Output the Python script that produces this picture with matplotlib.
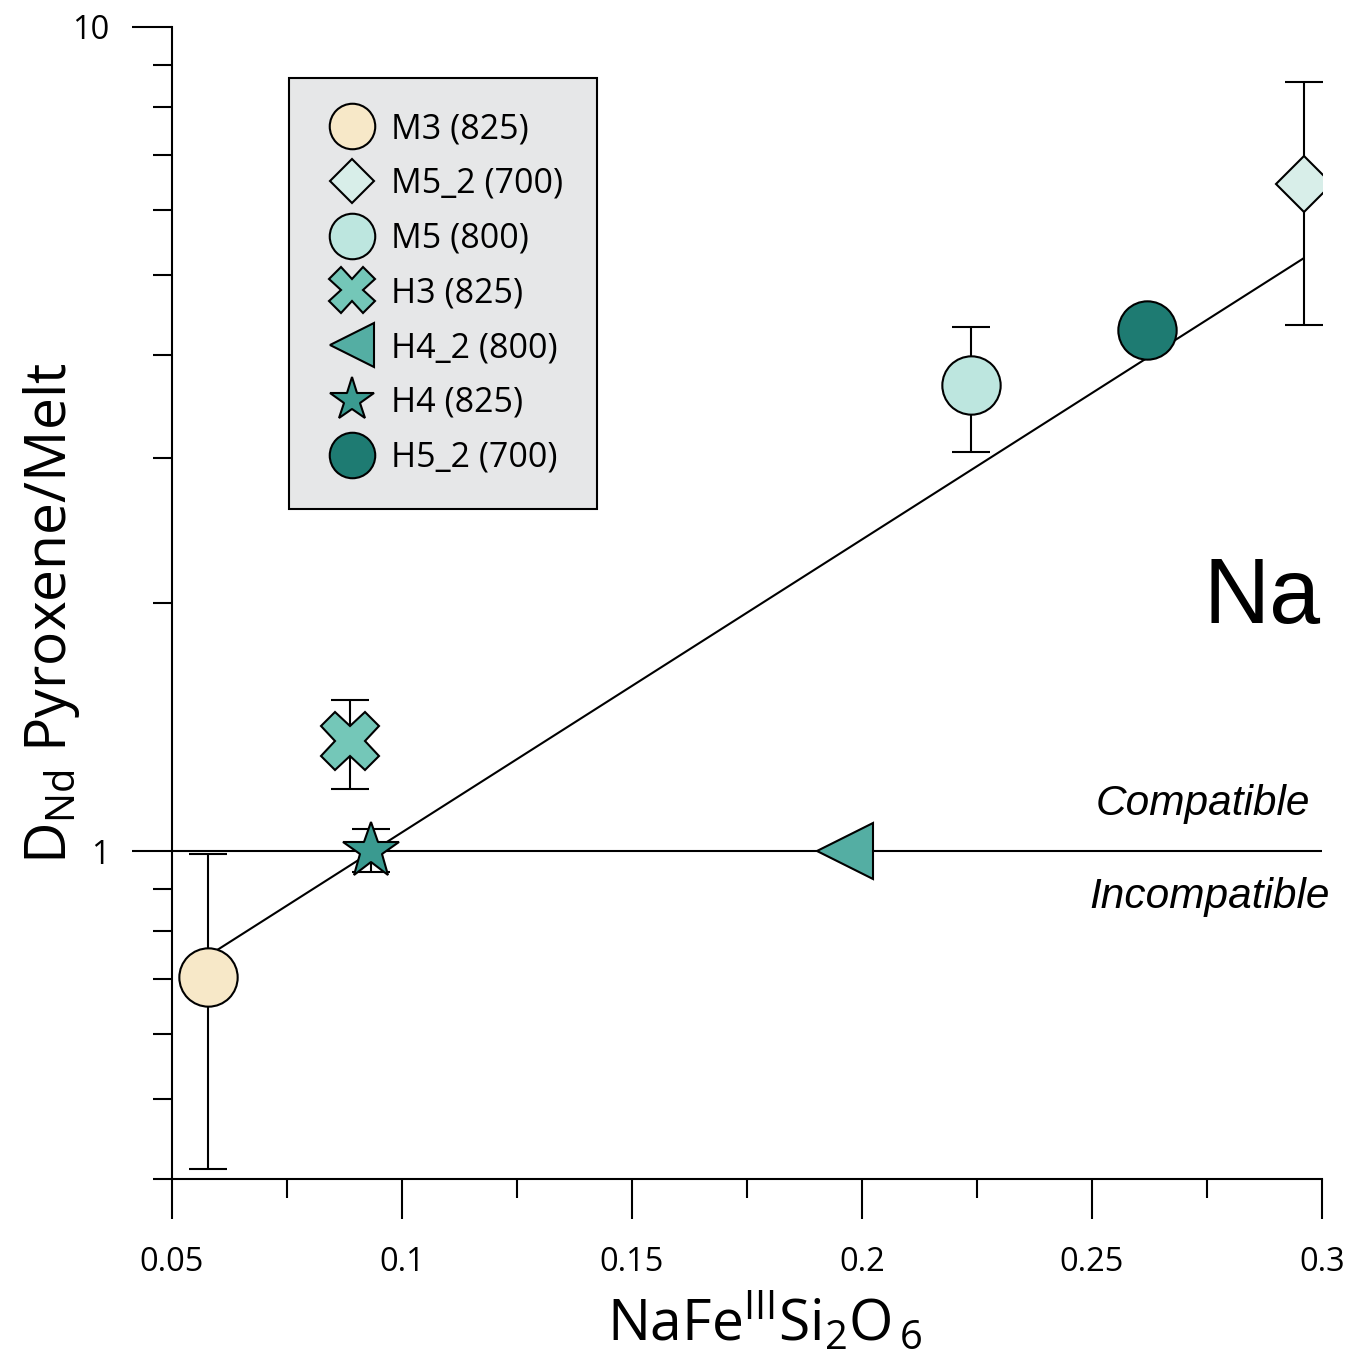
import matplotlib
matplotlib.use('Agg')
import matplotlib.pyplot as plt
from matplotlib.ticker import LogLocator, NullFormatter, FixedLocator

plt.rcParams['font.family'] = ['Open Sans', 'DejaVu Sans']
plt.rcParams['mathtext.fontset'] = 'custom'
plt.rcParams['mathtext.rm'] = 'Open Sans'
plt.rcParams['mathtext.it'] = 'Open Sans:italic'

# samples (legend order)
labels = ['M3 (825)', 'M5_2 (700)', 'M5 (800)', 'H3 (825)', 'H4_2 (800)', 'H4 (825)', 'H5_2 (700)']
x_vals = [0.0578, 0.2961, 0.2237, 0.0887, 0.1963, 0.0932, 0.262]
y_vals = [0.704, 6.45, 3.68, 1.36, 1.0, 1.0, 4.29]
# error bar limits (None = no error bar)
y_hi = [0.992, 8.58, 4.32, 1.524, None, 1.063, None]
y_lo = [0.411, 4.35, 3.05, 1.19, None, 0.943, None]
markers = ['o', 'D', 'o', 'X', '<', '*', 'o']
msizes = [42, 29, 42, 42, 40, 42, 42]
colors = ['#f7e8c8', '#d8eee9', '#bde6df', '#74c7b8', '#54aea3', '#3a9a90', '#1e7b72']

# regression line end points
fit_x = [0.0578, 0.2959]
fit_y = [0.746, 5.235]

fig = plt.figure(figsize=(13.48, 13.55), dpi=100)
ax = fig.add_axes([0.1276, 0.1299, 0.8531, 0.8502])

ax.axhline(1.0, color='black', lw=1.5, zorder=1)
ax.plot(fit_x, fit_y, color='black', lw=1.5, zorder=1)

handles = []
for i in range(len(labels)):
    if y_hi[i] is not None:
        yerr = [[y_vals[i] - y_lo[i]], [y_hi[i] - y_vals[i]]]
        ax.errorbar([x_vals[i]], [y_vals[i]], yerr=yerr, fmt='none', ecolor='black',
                    elinewidth=1.5, capsize=14, capthick=1.5, zorder=2)
    h, = ax.plot([x_vals[i]], [y_vals[i]], linestyle='none', marker=markers[i],
                 markersize=msizes[i], markerfacecolor=colors[i], markeredgecolor='black',
                 markeredgewidth=1.5, zorder=3, label=labels[i])
    handles.append(h)

ax.set_yscale('log')
ax.set_xlim(0.05, 0.3)
ax.set_ylim(0.4, 10)

ax.set_xticks([0.05, 0.1, 0.15, 0.2, 0.25, 0.3])
ax.set_xticklabels(['0.05', '0.1', '0.15', '0.2', '0.25', '0.3'])
ax.xaxis.set_minor_locator(FixedLocator([0.075, 0.125, 0.175, 0.225, 0.275]))
ax.yaxis.set_major_locator(FixedLocator([1, 10]))
ax.set_yticklabels(['1', '10'])
ax.yaxis.set_minor_locator(LogLocator(base=10, subs=range(2, 10)))
ax.yaxis.set_minor_formatter(NullFormatter())

ax.tick_params(axis='both', which='major', direction='out', length=29, width=1.5,
               labelsize=23.5, color='black')
ax.tick_params(axis='both', which='minor', direction='out', length=14, width=1.5)
ax.tick_params(axis='x', which='major', pad=19)
ax.tick_params(axis='y', which='major', pad=16)

for s in ['top', 'right']:
    ax.spines[s].set_visible(False)
for s in ['left', 'bottom']:
    ax.spines[s].set_linewidth(1.5)

ax.set_xlabel(r'$\mathrm{NaFe^{III}Si_{2}O_{\,6}}$', fontsize=41)
ax.xaxis.set_label_coords(0.5157, -0.097)
ax.set_ylabel(r'$\mathrm{D_{Nd}}$ Pyroxene/Melt', fontsize=41)
ax.yaxis.set_label_coords(-0.0785, 0.491)

ax.text(0.999, 0.4826, 'Na', transform=ax.transAxes, fontsize=66, family='Liberation Sans',
        ha='right', va='baseline')
ax.text(0.2974, 1.105, 'Compatible', fontsize=30.5, style='italic', family='Liberation Sans',
        ha='right', va='baseline')
ax.text(0.3017, 0.853, 'Incompatible', fontsize=30.5, style='italic', family='Liberation Sans',
        ha='right', va='baseline')

leg = ax.legend(handles=handles, loc='upper left', bbox_to_anchor=(0.1017, 0.9557),
                borderaxespad=0, fontsize=24.5, markerscale=0.78, frameon=True,
                fancybox=False, facecolor='#e6e7e8', edgecolor='black', framealpha=1,
                labelspacing=0.61, handletextpad=0.3, borderpad=1.0, handlelength=1.7)
leg.get_frame().set_linewidth(1.5)

fig.savefig('out.png', dpi=100)
